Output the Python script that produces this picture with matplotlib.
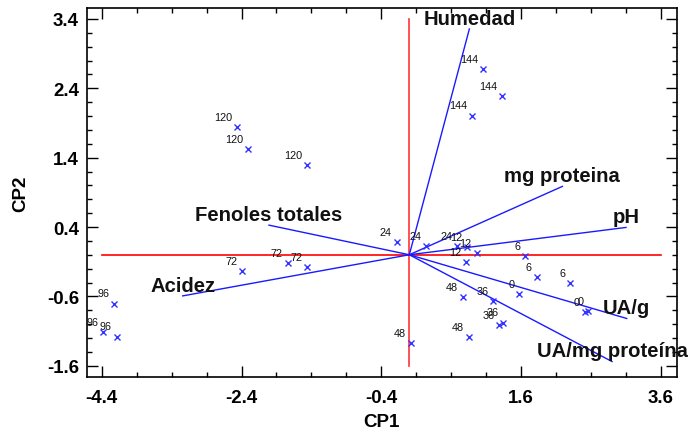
import matplotlib
matplotlib.use("Agg")
import matplotlib.pyplot as plt
from matplotlib.ticker import FixedLocator

plt.rcParams['font.family'] = ['Liberation Sans', 'DejaVu Sans']
plt.rcParams['axes.unicode_minus'] = False

# ---- data: sample scores (CP1, CP2) labelled by time ----
point_labels = ["120", "120", "120",
                "144", "144", "144",
                "72", "72", "72",
                "96", "96", "96",
                "48", "48", "48",
                "36", "36", "36",
                "0", "0", "0",
                "6", "6", "6",
                "12", "12", "12",
                "24", "24", "24"]
cp1_scores = [-2.46, -2.303, -1.459,
              1.059, 1.331, 0.898,
              -2.389, -1.739, -1.459,
              -4.22, -4.377, -4.185,
              0.021, 0.773, 0.855,
              1.202, 1.288, 1.345,
              1.574, 2.514, 2.561,
              1.66, 1.823, 2.30,
              0.830, 0.965, 0.812,
              -0.180, 0.239, 0.683]
cp2_scores = [1.846, 1.524, 1.298,
              2.678, 2.293, 2.005,
              -0.232, -0.121, -0.174,
              -0.703, -1.112, -1.179,
              -1.275, -0.616, -1.184,
              -0.665, -1.016, -0.977,
              -0.568, -0.832, -0.809,
              -0.024, -0.327, -0.414,
              0.106, 0.019, -0.111,
              0.186, 0.120, 0.124]

# ---- data: variable loadings (vector end points) ----
variables = ["Humedad", "mg proteina", "pH", "UA/g", "UA/mg proteína",
             "Fenoles totales", "Acidez"]
load_cp1 = [0.859, 2.19, 3.10, 3.11, 2.90, -2.007, -3.241]
load_cp2 = [3.256, 0.986, 0.394, -0.919, -1.54, 0.427, -0.593]

x_ticks = [-4.4, -2.4, -0.4, 1.6, 3.6]
y_ticks = [-1.6, -0.6, 0.4, 1.4, 2.4, 3.4]

W, H = 688, 435
fig = plt.figure(figsize=(W / 100, H / 100), dpi=100)
left, right, top, bottom = 86.7, 676.7, 9.3, 378.3
ax = fig.add_axes([left / W, 1 - bottom / H, (right - left) / W, (bottom - top) / H])

ax.set_xlim(-4.615, 3.825)
ax.set_ylim(-1.767, 3.554)

# reference axes (red)
ax.plot([x_ticks[0], x_ticks[-1]], [0, 0], color='#ff0000', lw=1.2, zorder=1)
ax.plot([0, 0], [y_ticks[0], y_ticks[-1]], color='#ff3333', lw=1.2, zorder=1)

# loading vectors
for name, lx, ly in zip(variables, load_cp1, load_cp2):
    ax.plot([0, lx], [0, ly], color='#1a1aff', lw=1.0, zorder=2)
    ax.annotate(name, (lx, ly), xytext=(0, 3.8), textcoords='offset points',
                ha='center', va='baseline', fontsize=14.6, fontweight='bold',
                color='#111111', annotation_clip=False, zorder=4)

# sample points
ax.plot(cp1_scores, cp2_scores, linestyle='none', marker='x', color='#3333ff',
        markersize=5, mew=1.0, zorder=3)
for lab, x, y in zip(point_labels, cp1_scores, cp2_scores):
    ax.annotate(lab, (x, y), xytext=(-3.6, 5.2), textcoords='offset points',
                ha='right', va='baseline', fontsize=7.8, color='#111111',
                annotation_clip=False, zorder=4)

ax.xaxis.set_major_locator(FixedLocator(x_ticks))
ax.yaxis.set_major_locator(FixedLocator(y_ticks))
ax.xaxis.set_minor_locator(FixedLocator([x_ticks[0] + 0.5 * i for i in range(17)]))
ax.yaxis.set_minor_locator(FixedLocator([y_ticks[0] + 0.2 * i for i in range(26)]))
ax.set_xticklabels([f"{v:.1f}" for v in x_ticks])
ax.set_yticklabels([f"{v:.1f}" for v in y_ticks])

ax.tick_params(which='both', direction='in', top=True, right=True, color='black')
ax.tick_params(which='major', length=8, width=1.0)
ax.tick_params(which='minor', length=3.6, width=1.0)
ax.tick_params(axis='x', which='major', pad=8.5, labelsize=13.4)
ax.tick_params(axis='y', which='major', pad=5.5, labelsize=13.4)
for lbl in ax.get_xticklabels() + ax.get_yticklabels():
    lbl.set_fontweight('bold')

for s in ax.spines.values():
    s.set_linewidth(1.2)
    s.set_color('black')

ax.set_xlabel("CP1", fontsize=13.5, fontweight='bold', labelpad=5)
ax.set_ylabel("CP2", fontsize=13.5, fontweight='bold', labelpad=13)

fig.savefig("out.png", dpi=100)
